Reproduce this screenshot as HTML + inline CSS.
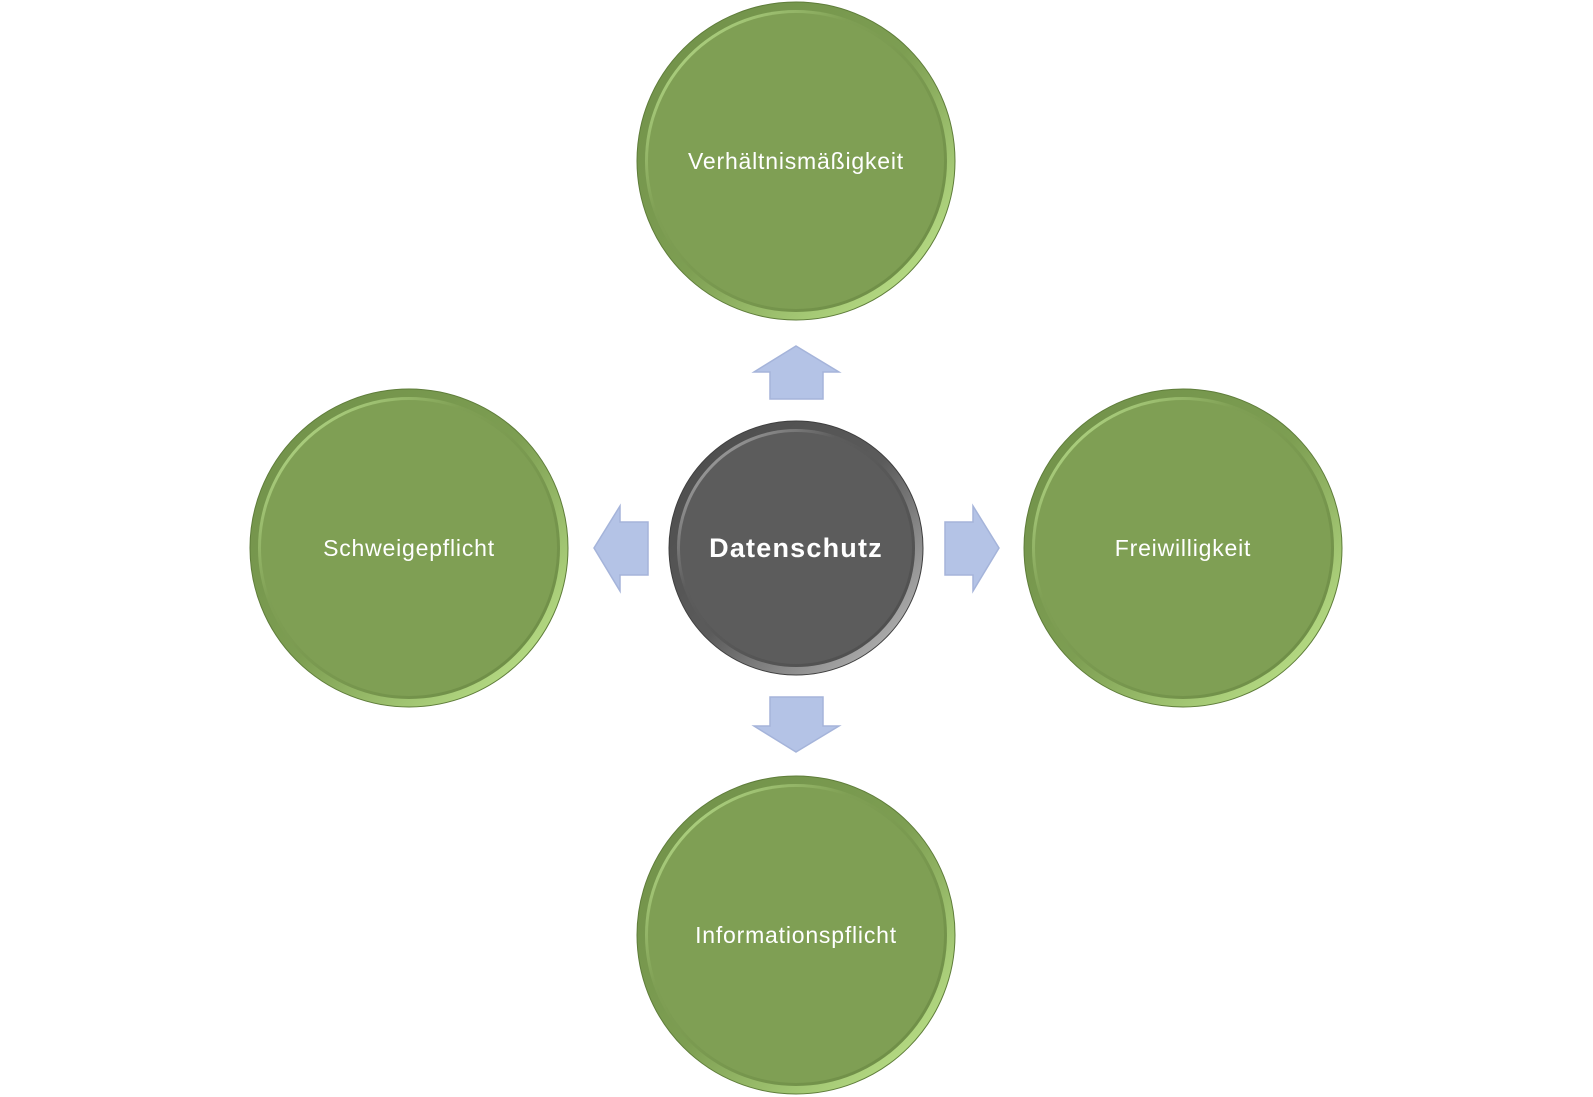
<!DOCTYPE html>
<html><head><meta charset="utf-8"><style>
html,body{margin:0;padding:0;background:#fff;}
svg{display:block;}
text{font-family:"Liberation Sans","DejaVu Sans",sans-serif;fill:#fff;text-anchor:middle;dominant-baseline:central;}
</style></head><body>
<svg width="1593" height="1097" viewBox="0 0 1593 1097" xmlns="http://www.w3.org/2000/svg">
<defs>
<linearGradient id="gRim" x1="0" y1="0" x2="1" y2="1">
<stop offset="0" stop-color="#6f8f48"/><stop offset="0.5" stop-color="#7d9e52"/><stop offset="1" stop-color="#c8ef94"/>
</linearGradient>
<linearGradient id="gIn" x1="0" y1="0" x2="1" y2="1">
<stop offset="0" stop-color="#c6ec98"/><stop offset="0.35" stop-color="#7f9f54"/><stop offset="1" stop-color="#6c8b45"/>
</linearGradient>
<linearGradient id="dRim" x1="0" y1="0" x2="1" y2="1">
<stop offset="0" stop-color="#4a4a4a"/><stop offset="0.5" stop-color="#5b5b5b"/><stop offset="1" stop-color="#c8c8c8"/>
</linearGradient>
<linearGradient id="dIn" x1="0" y1="0" x2="1" y2="1">
<stop offset="0" stop-color="#bdbdbd"/><stop offset="0.35" stop-color="#5c5c5c"/><stop offset="1" stop-color="#4d4d4d"/>
</linearGradient>
<g id="gc">
<circle r="159" fill="url(#gRim)" stroke="#5f7d3a" stroke-width="1"/>
<circle r="151" fill="url(#gIn)"/>
<circle r="148" fill="#7f9f54"/>
</g>
</defs>
<use href="#gc" x="796" y="161"/>
<use href="#gc" x="409" y="548"/>
<use href="#gc" x="1183" y="548"/>
<use href="#gc" x="796" y="935"/>
<circle cx="796" cy="548" r="127" fill="url(#dRim)" stroke="#3f3f3f"/>
<circle cx="796" cy="548" r="119" fill="url(#dIn)"/>
<circle cx="796" cy="548" r="116" fill="#5c5c5c"/>
<g fill="#b4c3e6" stroke="#a5b4da" stroke-width="1.5">
<polygon points="796,346 839,372 823,372 823,399 770,399 770,372 754,372"/>
<polygon points="796,752 839,726 823,726 823,697 770,697 770,726 754,726"/>
<polygon points="594,548 620,506 620,522 648,522 648,575 620,575 620,591"/>
<polygon points="999,548 973,506 973,522 945,522 945,575 973,575 973,591"/>
</g>
<g font-size="23" letter-spacing="0.8">
<text x="796" y="161">Verhältnismäßigkeit</text>
<text x="409" y="548">Schweigepflicht</text>
<text x="1183" y="548">Freiwilligkeit</text>
<text x="796" y="935">Informationspflicht</text>
</g>
<text x="796" y="548" font-size="27" font-weight="bold" letter-spacing="1.2">Datenschutz</text>
</svg>
</body></html>
